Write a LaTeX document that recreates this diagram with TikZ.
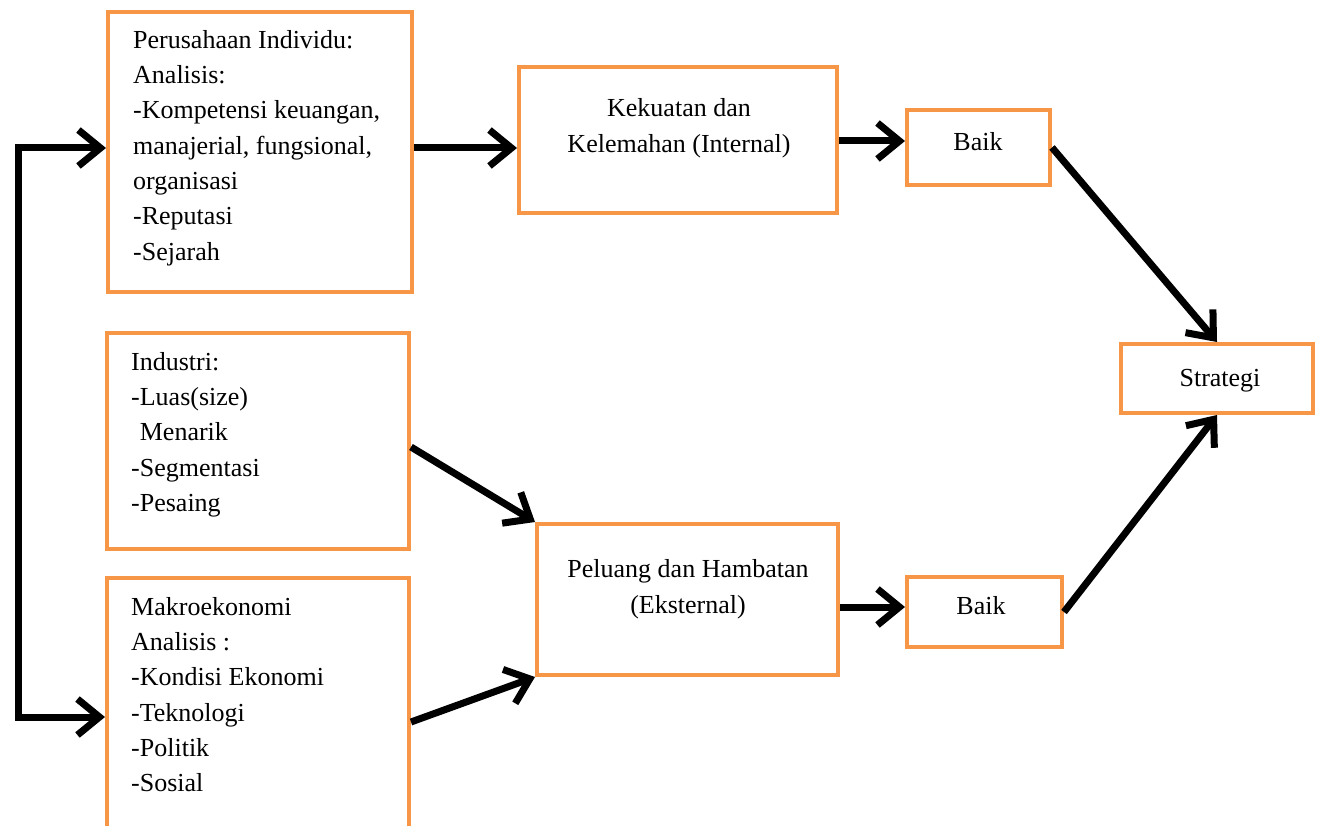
\documentclass[tikz,border=0pt]{standalone}
\usepackage{fontspec}
\setmainfont{Liberation Serif}
\usetikzlibrary{arrows.meta}
\definecolor{boxorange}{HTML}{F79646}
\tikzset{
  obox/.style={draw=boxorange, line width=4pt, inner sep=0pt, fill=white},
  ltext/.style={anchor=north west, inner sep=0pt, align=left, font=\fontsize{26}{35.3}\selectfont},
  ctext/.style={inner sep=0pt, align=center, font=\fontsize{26}{36}\selectfont},
  arr/.style={line width=7pt, -{Straight Barb[length=22pt,width=36pt]}},
  arrb/.style={line width=7pt, {Straight Barb[length=22pt,width=36pt]}-{Straight Barb[length=22pt,width=36pt]}}
}
\begin{document}
\begin{tikzpicture}[x=1pt,y=-1pt]
\useasboundingbox[fill=white] (0,0) rectangle (1322,826);
% boxes
\node[obox, minimum width=304pt, minimum height=280pt] (p) at (260,152) {};
\node[obox, minimum width=302pt, minimum height=216pt] (i) at (258,441) {};
\node[obox, minimum width=302pt, minimum height=280pt] (m) at (258,718) {};
\node[obox, minimum width=318pt, minimum height=146pt] (k) at (678,140) {};
\node[obox, minimum width=301pt, minimum height=151pt] (pl) at (687.5,599.5) {};
\node[obox, minimum width=143pt, minimum height=75pt] (b1) at (978.5,147.5) {};
\node[obox, minimum width=155pt, minimum height=70pt] (b2) at (984.5,612) {};
\node[obox, minimum width=192pt, minimum height=69pt] (s) at (1217,378.5) {};
% texts
\node[ltext] (pt) at (133,30) {Perusahaan Individu:\\Analisis:\\-Kompetensi keuangan,\\manajerial, fungsional,\\organisasi\\-Reputasi\\-Sejarah};
\node[ltext] (it) at (131,352) {Industri:\\-Luas(size)\\\phantom{-}Menarik\\-Segmentasi\\-Pesaing};
\node[ltext] (mt) at (131,597) {Makroekonomi\\Analisis :\\-Kondisi Ekonomi\\-Teknologi\\-Politik\\-Sosial};
\node[ctext] (kt) at (679,128) {Kekuatan dan\\Kelemahan (Internal)};
\node[ctext] (plt) at (688,589) {Peluang dan Hambatan\\(Eksternal)};
\node[ctext] (b1t) at (978,142) {Baik};
\node[ctext] (b2t) at (981,606) {Baik};
\node[ctext] (st) at (1220,381) {Strategi};
% connectors
\draw[arrb] (p.west |- 0,148) -- (18,148) -- (18,717) -- (m.west |- 0,717);
\draw[arr] (p.east |- 0,148) -- (k.west |- 0,148);
\draw[arr] (k.east |- 0,141) -- (b1.west |- 0,141);
\draw[arr] (b1.east) -- (s.north);
\draw[arr] (i.east |- 0,447) -- (pl.north west);
\draw[arr] (m.east |- 0,722) -- (pl.south west);
\draw[arr] (pl.east |- 0,607) -- (b2.west |- 0,607);
\draw[arr] (b2.east) -- (s.south);
\end{tikzpicture}
\end{document}
